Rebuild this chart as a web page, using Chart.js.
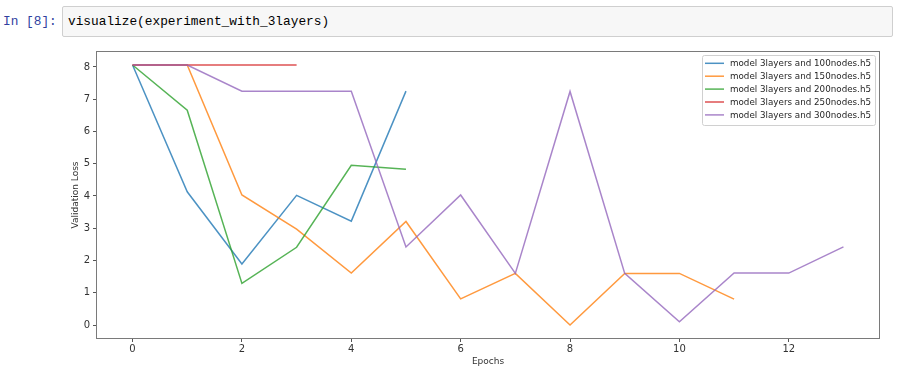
<!DOCTYPE html>
<html><head><meta charset="utf-8">
<script src="https://cdn.jsdelivr.net/npm/chart.js@4/dist/chart.umd.min.js"></script>
<style>
html,body{margin:0;padding:0;background:#fff;width:902px;height:372px;overflow:hidden;position:relative}
#prompt{position:absolute;left:3px;top:13px;font:12.8px "Liberation Mono",monospace;color:#303F9F;line-height:18px;white-space:pre}
#cell{position:absolute;left:62px;top:6px;width:829px;height:29px;border:1px solid #cfcfcf;border-radius:2px;background:#f7f7f7}
#code{position:absolute;left:5px;top:6px;font:12.8px "Liberation Mono",monospace;color:#000;line-height:18px;white-space:pre}
#wrap{position:absolute;left:0;top:40px;width:902px;height:332px}
</style></head>
<body>
<div id="prompt">In [8]:</div>
<div id="cell"><div id="code">visualize(experiment_with_3layers)</div></div>
<div id="wrap"><canvas id="c" width="902" height="332"></canvas></div>
<script>
const epochs = [0,1,2,3,4,5,6,7,8,9,10,11,12,13];
const seriesNames = [
  'model 3layers and 100nodes.h5',
  'model 3layers and 150nodes.h5',
  'model 3layers and 200nodes.h5',
  'model 3layers and 250nodes.h5',
  'model 3layers and 300nodes.h5'
];
const loss100 = [8.06, 4.13, 1.89, 4.02, 3.22, 7.25];
const loss150 = [8.06, 8.06, 4.03, 2.97, 1.61, 3.21, 0.81, 1.60, 0.00, 1.60, 1.60, 0.80];
const loss200 = [8.06, 6.66, 1.29, 2.41, 4.95, 4.83];
const loss250 = [8.06, 8.06, 8.06, 8.06];
const loss300 = [8.06, 8.06, 7.25, 7.25, 7.25, 2.42, 4.03, 1.60, 7.24, 1.60, 0.10, 1.61, 1.61, 2.42];
const xTicks = [0,2,4,6,8,10,12];
const yTicks = [0,1,2,3,4,5,6,7,8];
const colors = ['rgba(31,119,180,0.8)','rgba(255,127,14,0.8)','rgba(44,160,44,0.8)','rgba(214,39,40,0.8)','rgba(148,103,189,0.8)'];

const allSeries = [loss100, loss150, loss200, loss250, loss300];
const datasets = allSeries.map((vals, i) => ({
  label: seriesNames[i],
  data: vals.map((v, j) => ({x: epochs[j], y: v})),
  borderColor: colors[i],
  backgroundColor: colors[i],
  borderWidth: 1.5,
  pointRadius: 0,
  pointHoverRadius: 0,
  fill: false,
  tension: 0,
  order: allSeries.length - 1 - i
}));

const frameAndLegend = {
  id: 'frameAndLegend',
  afterDraw(chart) {
    const ctx = chart.ctx;
    const a = chart.chartArea;
    ctx.save();
    ctx.strokeStyle = '#7a7a7a';
    ctx.lineWidth = 1;
    ctx.strokeRect(Math.round(a.left) - 0.5, Math.round(a.top) - 0.5, Math.round(a.right - a.left) + 1, Math.round(a.bottom - a.top) + 1);
    // legend
    const bx = 702.5, by = 15.5, bw = 173, bh = 70;
    ctx.fillStyle = 'rgba(255,255,255,0.8)';
    ctx.strokeStyle = '#d0d0d0';
    ctx.beginPath();
    if (ctx.roundRect) ctx.roundRect(bx, by, bw, bh, 2); else ctx.rect(bx, by, bw, bh);
    ctx.fill();
    ctx.stroke();
    ctx.font = '9px "DejaVu Sans", sans-serif';
    ctx.textBaseline = 'middle';
    chart.data.datasets.forEach((ds, i) => {
      const y = 23.3 + i * 12.9;
      ctx.strokeStyle = ds.borderColor;
      ctx.lineWidth = 1.5;
      ctx.beginPath();
      ctx.moveTo(705, y);
      ctx.lineTo(724, y);
      ctx.stroke();
      ctx.fillStyle = '#262626';
      const w = ctx.measureText(ds.label).width;
      const sx = 141 / w;
      ctx.save();
      ctx.translate(730, y);
      ctx.scale(sx, 1);
      ctx.fillText(ds.label, 0, 0.5);
      ctx.restore();
    });
    ctx.restore();
  }
};

new Chart(document.getElementById('c'), {
  type: 'line',
  data: { datasets },
  options: {
    responsive: false,
    animation: false,
    events: [],
    layout: { padding: { top: 12, right: 23, left: 0, bottom: 0 } },
    plugins: { legend: { display: false }, tooltip: { enabled: false } },
    scales: {
      x: {
        type: 'linear',
        min: -0.65,
        max: 13.65,
        afterBuildTicks: s => { s.ticks = xTicks.map(v => ({value: v})); },
        afterFit: s => { s.height = 34; },
        border: { display: false },
        grid: { display: true, drawOnChartArea: false, drawTicks: true, tickLength: 4, color: '#555', tickColor: '#555' },
        ticks: { color: '#333', font: { family: '"DejaVu Sans", sans-serif', size: 10 }, padding: 1, maxRotation: 0, autoSkip: false },
        title: { display: true, text: 'Epochs', color: '#333', font: { family: '"DejaVu Sans", sans-serif', size: 9 }, padding: { top: 0, bottom: 5 } }
      },
      y: {
        type: 'linear',
        min: -0.403,
        max: 8.463,
        afterBuildTicks: s => { s.ticks = yTicks.map(v => ({value: v})); },
        afterFit: s => { s.width = 97; },
        border: { display: false },
        grid: { display: true, drawOnChartArea: false, drawTicks: true, tickLength: 4, color: '#555', tickColor: '#555' },
        ticks: { color: '#333', font: { family: '"DejaVu Sans", sans-serif', size: 10 }, padding: 3, autoSkip: false },
        title: { display: true, text: 'Validation Loss', color: '#333', font: { family: '"DejaVu Sans", sans-serif', size: 9 }, padding: { top: 70, bottom: 0 } }
      }
    }
  },
  plugins: [frameAndLegend]
});
</script>
</body></html>
